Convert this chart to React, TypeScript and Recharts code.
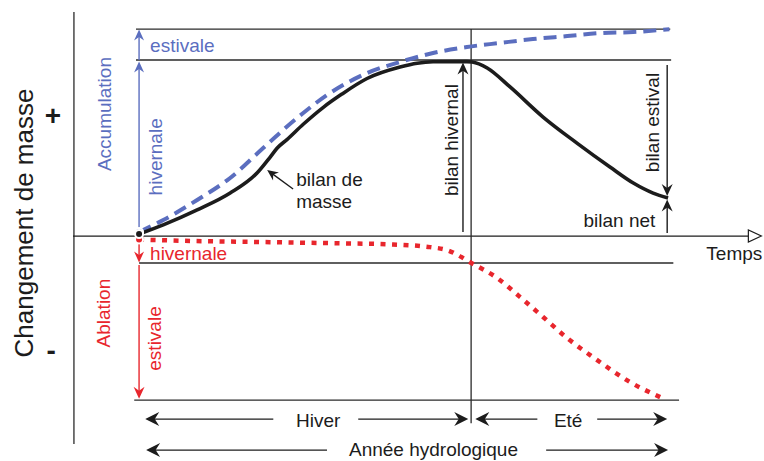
import React from "react";
import {
  ComposedChart,
  Line,
  XAxis,
  YAxis,
  ReferenceLine,
  ReferenceDot,
} from "recharts";

// time in months since start of hydrological year, mass change in arbitrary units
const balanceT = [0, 0.55, 1.32, 2.07, 2.68, 2.98, 3.14, 3.36, 3.73, 4.18, 4.6, 5.18, 5.93, 6.32, 6.68, 7.45, 7.57, 7.91, 8.43, 9.18, 9.95, 10.7, 11.23, 11.68, 12.02];
const balanceV = [1.1, 6.3, 14.8, 24.4, 35.8, 44.9, 50, 54.8, 63.5, 73, 80.5, 89.5, 96, 98.2, 99, 99.1, 98.9, 95.5, 84.7, 67.6, 52.8, 39.2, 30.1, 24.4, 21.6];

const accumT = [0, 0.55, 1.32, 2.07, 2.82, 3.27, 3.73, 4.27, 5.18, 5.93, 6.68, 7.45, 8.2, 8.95, 9.73, 10.48, 11.23, 12.05];
const accumV = [2.3, 9.1, 20.5, 33, 50, 60.2, 69.9, 80.1, 92.6, 98.9, 104, 107.4, 109.7, 111.9, 113.6, 115.3, 115.9, 117.5];

const ablationT = [0, 1.23, 2.75, 4.27, 5.77, 6.61, 7.0, 7.55, 8.14, 8.66, 9.18, 9.73, 10.41, 11.16, 11.91];
const ablationV = [-2, -2.8, -3.4, -4, -4.8, -6.3, -8, -15.3, -23.9, -34.7, -46, -58, -70.5, -83, -92.3];

const toRows = (ts: number[], vs: number[]) => ts.map((t, i) => ({ t, v: vs[i] }));
const balanceData = toRows(balanceT, balanceV);
const accumData = toRows(accumT, accumV);
const ablationData = toRows(ablationT, ablationV);

const FONT = '"Liberation Sans", Arial, Helvetica, sans-serif';
const BLUE = "#5b6ebf";
const RED = "#e8262d";
const INK = "#1c1c1c";
const THIN = "#2a2a2a";

type ArrowOpts = { len?: number; half?: number; width?: number; open?: boolean };

function drawArrow(p: any, color: string, o: ArrowOpts) {
  const { x1, y1, x2, y2 } = p;
  const dx = x2 - x1;
  const dy = y2 - y1;
  const len = Math.hypot(dx, dy) || 1;
  const ux = dx / len;
  const uy = dy / len;
  const nx = -uy;
  const ny = ux;
  const L = o.len ?? 12;
  const W = o.half ?? 5.5;
  if (o.open) {
    const pts = [
      [x2, y2],
      [x2 - ux * L + nx * W, y2 - uy * L + ny * W],
      [x2 - ux * L - nx * W, y2 - uy * L - ny * W],
    ];
    return (
      <g>
        <line x1={x1} y1={y1} x2={x2 - ux * L} y2={y2 - uy * L} stroke={color} strokeWidth={o.width ?? 1.3} />
        <polygon points={pts.map((q) => q.join(",")).join(" ")} fill="#fff" stroke={color} strokeWidth={1.2} />
      </g>
    );
  }
  const pts = [
    [x2, y2],
    [x2 - ux * L + nx * W, y2 - uy * L + ny * W],
    [x2 - ux * L * 0.68, y2 - uy * L * 0.68],
    [x2 - ux * L - nx * W, y2 - uy * L - ny * W],
  ];
  return (
    <g>
      <line x1={x1} y1={y1} x2={x2 - ux * L * 0.6} y2={y2 - uy * L * 0.6} stroke={color} strokeWidth={o.width ?? 1.4} />
      <polygon points={pts.map((q) => q.join(",")).join(" ")} fill={color} />
    </g>
  );
}

function arrow(key: string, x1: number, y1: number, x2: number, y2: number, color: string, o: ArrowOpts = {}) {
  return (
    <ReferenceLine
      key={key}
      segment={[{ x: x1, y: y1 }, { x: x2, y: y2 }]}
      ifOverflow="visible"
      shape={(p: any) => drawArrow(p, color, o)}
    />
  );
}

function rule(key: string, x1: number, y1: number, x2: number, y2: number) {
  return (
    <ReferenceLine
      key={key}
      segment={[{ x: x1, y: y1 }, { x: x2, y: y2 }]}
      ifOverflow="visible"
      stroke={THIN}
      strokeWidth={1.3}
    />
  );
}

type TextOpts = { size?: number; bold?: boolean; anchor?: "start" | "middle" | "end"; rotate?: boolean };

function label(key: string, x: number, y: number, text: string, color: string, o: TextOpts = {}) {
  return (
    <ReferenceDot
      key={key}
      x={x}
      y={y}
      r={1}
      ifOverflow="visible"
      shape={(p: any) => (
        <text
          x={p.cx}
          y={p.cy}
          dy="0.35em"
          fill={color}
          fontSize={o.size ?? 19}
          fontFamily={FONT}
          fontWeight={o.bold ? 700 : 400}
          textAnchor={o.anchor ?? "middle"}
          transform={o.rotate ? `rotate(-90 ${p.cx} ${p.cy})` : undefined}
        >
          {text}
        </text>
      )}
    />
  );
}

export default function App() {
  return (
    <div style={{ position: "absolute", left: 0, top: 0, background: "#fff" }}>
      <ComposedChart width={764} height={461} margin={{ top: 0, right: 0, bottom: 0, left: 0 }}>
        <XAxis type="number" dataKey="t" domain={[-3.16, 14.2]} allowDataOverflow hide />
        <YAxis type="number" dataKey="v" domain={[-127.8, 134.1]} allowDataOverflow hide />

        {rule("axisY", -1.48, 127.3, -1.48, -118.2)}
        {arrow("axisX", -1.5, 0, 14.14, 0, INK, { len: 13, half: 6, open: true })}
        {rule("top", -0.07, 117.6, 12.07, 117.6)}
        {rule("winter", -0.07, 100, 12.09, 100)}
        {rule("ablW", 0, -15.3, 12.14, -15.3)}
        {rule("ablS", -0.11, -93.2, 12.27, -93.2)}
        {rule("split", 7.545, 117.6, 7.545, -106.3)}

        <Line data={ablationData} dataKey="v" type="monotone" stroke={RED} strokeWidth={4.5} strokeDasharray="5 6.5" dot={false} isAnimationActive={false} />
        <Line data={accumData} dataKey="v" type="monotone" stroke={BLUE} strokeWidth={4} strokeDasharray="13 7" dot={false} isAnimationActive={false} />
        <Line data={balanceData} dataKey="v" type="monotone" stroke={INK} strokeWidth={3.6} dot={false} isAnimationActive={false} />

        {arrow("accW", 0, 1.5, 0, 99.2, BLUE, { len: 11, half: 5 })}
        {arrow("accS", 0, 100, 0, 117.4, BLUE, { len: 11, half: 5 })}
        {arrow("ablWa", 0, -1.5, 0, -15, RED, { len: 11, half: 5 })}
        {arrow("ablSa", 0, -16.5, 0, -92.5, RED, { len: 12, half: 5.5 })}
        {arrow("bw", 7.36, 2.3, 7.36, 98.6, INK)}
        {arrow("bs", 12.0, 97.2, 12.0, 22.7, INK)}
        {arrow("bn", 12.0, 1.7, 12.0, 20.8, INK)}
        {arrow("ptr", 3.5, 26.7, 2.91, 37.5, INK, { len: 11, half: 5 })}
        {arrow("hivL", 3.05, -104, 0.14, -104, INK, { len: 14, half: 7 })}
        {arrow("hivR", 4.98, -104, 7.48, -104, INK, { len: 14, half: 7 })}
        {arrow("eteL", 9.05, -104, 7.64, -104, INK, { len: 14, half: 7 })}
        {arrow("eteR", 10.41, -104, 12.0, -104, INK, { len: 14, half: 7 })}
        {arrow("anL", 4.27, -121.6, 0.16, -121.6, INK, { len: 14, half: 7 })}
        {arrow("anR", 9.25, -121.6, 12.02, -121.6, INK, { len: 14, half: 7 })}

        {label("yTitle", -2.614, 7.4, "Changement de masse", INK, { size: 26, rotate: true })}
        {label("plus", -1.955, 68.75, "+", INK, { size: 28, bold: true })}
        {label("minus", -2.0, -64.8, "-", INK, { size: 28, bold: true })}
        {label("estB", 0.25, 108.5, "estivale", BLUE, { anchor: "start" })}
        {label("accum", -0.795, 69.3, "Accumulation", BLUE, { rotate: true })}
        {label("hivB", 0.36, 45, "hivernale", BLUE, { rotate: true })}
        {label("bdm1", 3.57, 32.4, "bilan de", INK, { anchor: "start" })}
        {label("bdm2", 3.57, 19.9, "masse", INK, { anchor: "start" })}
        {label("bh", 7.09, 54.5, "bilan hivernal", INK, { rotate: true })}
        {label("be", 11.66, 64.5, "bilan estival", INK, { rotate: true })}
        {label("bnet", 11.73, 9.1, "bilan net", INK, { anchor: "end" })}
        {label("temps", 12.89, -9.7, "Temps", INK, { anchor: "start" })}
        {label("hivR", 0.25, -9.9, "hivernale", RED, { anchor: "start" })}
        {label("abl", -0.818, -43.75, "Ablation", RED, { rotate: true })}
        {label("estR", 0.34, -58.2, "estivale", RED, { rotate: true })}
        {label("hiver", 4.07, -104.5, "Hiver", INK)}
        {label("ete", 9.75, -104.5, "Eté", INK)}
        {label("annee", 6.69, -121, "Année hydrologique", INK)}
      </ComposedChart>
    </div>
  );
}
